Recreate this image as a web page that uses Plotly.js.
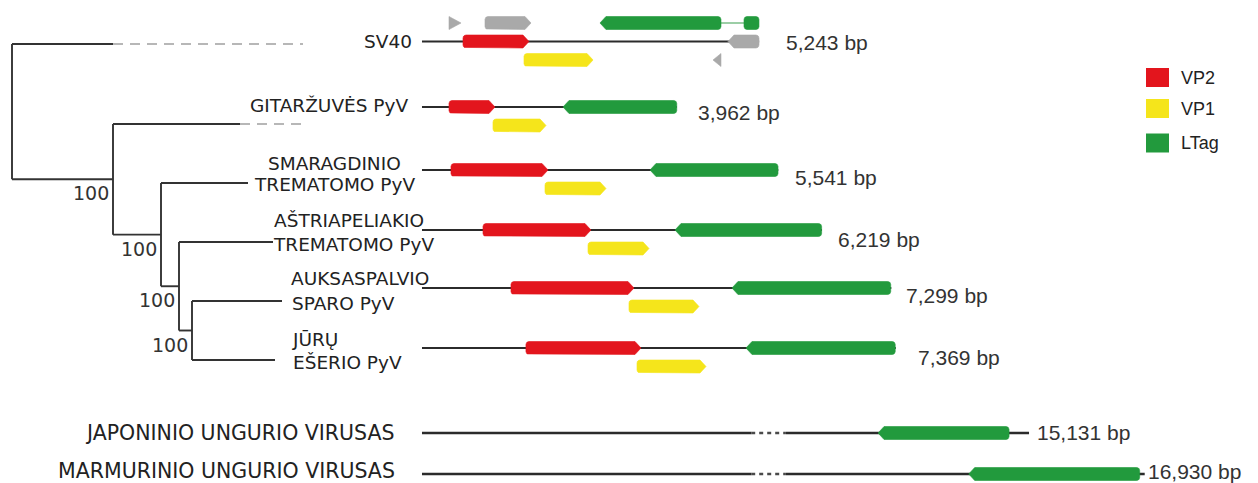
<!DOCTYPE html>
<html><head><meta charset="utf-8">
<script src="https://cdn.plot.ly/plotly-3.0.1.min.js"></script>
<style>html,body{margin:0;padding:0;background:#fff}#chart{width:1258px;height:483px}</style>
</head><body><div id="chart"></div>
<script>
// ================= DATA =================
const genomeNames = ['SV40','GITARŽUVĖS PyV','SMARAGDINIO TREMATOMO PyV','AŠTRIAPELIAKIO TREMATOMO PyV',
  'AUKSASPALVIO SPARO PyV','JŪRŲ EŠERIO PyV','JAPONINIO UNGURIO VIRUSAS','MARMURINIO UNGURIO VIRUSAS'];
const genomeLengths = [5243, 3962, 5541, 6219, 7299, 7369, 15131, 16930];
const genomeBroken  = [false, false, false, false, false, false, true, true];

const geneTypes = ['VP2', 'VP1', 'LTag'];

// genes (bp): genome index, type, start, end, strand (+ right, - left, . none), lane (-1 above, 0 on, 1 below)
const geneGenome = [0,0,0,0,0,0,0,0, 1,1,1, 2,2,2, 3,3,3, 4,4,4, 5,5,5, 6, 7];
const geneType   = ['other','other','VP2','VP1','LTag','LTag','other','other',
                    'VP2','VP1','LTag', 'VP2','VP1','LTag', 'VP2','VP1','LTag',
                    'VP2','VP1','LTag', 'VP2','VP1','LTag', 'LTag', 'LTag'];
const geneStart  = [420, 980, 638, 1586, 2768, 5008, 4759, 4526,
                    420, 1104, 2193,  451, 1913, 3546,  949, 2582, 3935,
                    1384, 3219, 4821,  1617, 3344, 5039,  12783, 14193];
const geneEnd    = [607, 1695, 1664, 2660, 4650, 5241, 5241, 4650,
                    1135, 1929, 3962,  1960, 2862, 5537,  2628, 3531, 6215,
                    3297, 4308, 7290,  3406, 4417, 7360,  14820, 16852];
const geneStrand = ['+','+','+','+','-','.','-','-',
                    '+','+','-', '+','+','-', '+','+','-', '+','+','-', '+','+','-', '-', '-'];
const geneLane   = [-1,-1,0,1,-1,-1,0,1, 0,1,0, 0,1,0, 0,1,0, 0,1,0, 0,1,0, 0, 0];

// SV40 LTag intron link
const intronGenome = [0], intronStart = [4650], intronEnd = [5008], intronLane = [-1];

// phylogeny (rectangular cladogram); leaves are genomes 0..5
const nodeChildren = [['L0','N1'], ['L1','N2'], ['L2','N3'], ['L3','N4'], ['L4','L5']];
const nodeSupport  = [null, 100, 100, 100, 100];
const nodeDepth    = [12, 113, 161, 179, 192];
const leafDepth    = [113, 240, 248, 273, 282, 275];
const leafDashEnd  = [303, 308, null, null, null, null];

// ================= STYLE / LAYOUT =================
const COLORS = {VP2:'#e3151d', VP1:'#f5e51b', LTag:'#229a3d', other:'#a9a9a9'};
const X_RANGE = [-6563, 13002];
const PLOT_W = 1258;
const BP_PER_PX = (X_RANGE[1] - X_RANGE[0]) / PLOT_W;
const rowY = [41.5, 107, 170, 230, 288, 348, 433, 474];
const leafY = [44, 124, 183, 242, 301, 360];
const LANE_OFF = 18.5, GENE_H = 13, TIP_PX = 6, R_PX = 3, TRI_MAX_PX = 14;
const BREAK_FROM = 5120, BREAK_TO = 11350, BREAK_SHOWN = 540;

const bpLabelX = [785, 697, 794, 837, 905, 917, 1036, 1147];
const bpLabelY = [42, 112.5, 177.5, 239, 295, 357, 432, 471];

const nameLines = [
  {t:'SV40', x:413, y:41, a:'right', s:18.5},
  {t:'GITARŽUVĖS PyV', x:409, y:105, a:'right', s:18.5},
  {t:'SMARAGDINIO', x:334, y:163, a:'center', s:18.5},
  {t:'TREMATOMO PyV', x:334, y:184, a:'center', s:18.5},
  {t:'AŠTRIAPELIAKIO', x:273, y:220, a:'left', s:18.5},
  {t:'TREMATOMO PyV', x:272, y:244, a:'left', s:18.5},
  {t:'AUKSASPALVIO', x:290, y:278, a:'left', s:18.5},
  {t:'SPARO PyV', x:291, y:303, a:'left', s:18.5},
  {t:'JŪRŲ', x:291, y:339, a:'left', s:18.5},
  {t:'EŠERIO PyV', x:292, y:362, a:'left', s:18.5},
  {t:'JAPONINIO UNGURIO VIRUSAS', x:396, y:433, a:'right', s:20.5},
  {t:'MARMURINIO UNGURIO VIRUSAS', x:396, y:471, a:'right', s:20.5}
];
const legendY = [77.5, 108.5, 143];

// ================= BUILD =================
function disp(bp, broken) {
  if (!broken || bp <= BREAK_FROM) return bp;
  if (bp < BREAK_TO) return BREAK_FROM + (bp - BREAK_FROM) / (BREAK_TO - BREAK_FROM) * BREAK_SHOWN;
  return bp - (BREAK_TO - BREAK_FROM) + BREAK_SHOWN;
}

function genePoly(s, e, yc, h, strand) {
  const tip = TIP_PX * BP_PER_PX, r = R_PX * BP_PER_PX, ry = R_PX;
  const top = yc - h / 2, bot = yc + h / 2;
  const xs = [], ys = [];
  const arc = (cx, cy, a0, a1) => { for (let k = 0; k <= 5; k++) { const a = a0 + (a1 - a0) * k / 5; xs.push(cx + r * Math.cos(a)); ys.push(cy + ry * Math.sin(a)); } };
  const tri = (e - s) <= TRI_MAX_PX * BP_PER_PX;
  if (strand === '+') {
    if (tri) return {x:[s, e, s, s], y:[top, yc, bot, top]};
    xs.push(e - tip); ys.push(top); xs.push(e); ys.push(yc); xs.push(e - tip); ys.push(bot);
    arc(s + r, bot - ry, Math.PI / 2, Math.PI);
    arc(s + r, top + ry, Math.PI, 1.5 * Math.PI);
    xs.push(e - tip); ys.push(top);
  } else if (strand === '-') {
    if (tri) return {x:[e, s, e, e], y:[top, yc, bot, top]};
    xs.push(s); ys.push(yc); xs.push(s + tip); ys.push(top);
    arc(e - r, top + ry, -Math.PI / 2, 0);
    arc(e - r, bot - ry, 0, Math.PI / 2);
    xs.push(s + tip); ys.push(bot); xs.push(s); ys.push(yc);
  } else {
    arc(s + r, top + ry, Math.PI, 1.5 * Math.PI);
    arc(e - r, top + ry, -Math.PI / 2, 0);
    arc(e - r, bot - ry, 0, Math.PI / 2);
    arc(s + r, bot - ry, Math.PI / 2, Math.PI);
    xs.push(xs[0]); ys.push(ys[0]);
  }
  return {x:xs, y:ys};
}

const traces = [];

// genome backbones
genomeLengths.forEach((L, g) => {
  const y = rowY[g], br = genomeBroken[g];
  const w = br ? 2.6 : 1.8;
  if (!br) {
    traces.push({x:[0, L], y:[y, y], mode:'lines', line:{color:'#2b2b2b', width:w}, hoverinfo:'skip'});
  } else {
    traces.push({x:[0, disp(BREAK_FROM, true), null, disp(BREAK_TO, true), disp(L, true)],
      y:[y, y, null, y, y], mode:'lines', line:{color:'#2b2b2b', width:w}, hoverinfo:'skip'});
    traces.push({x:[disp(BREAK_FROM, true), disp(BREAK_TO, true)], y:[y, y], mode:'lines',
      line:{color:'#4a4a4a', width:w, dash:'4px,4px'}, hoverinfo:'skip'});
  }
});

// intron links
intronGenome.forEach((g, i) => {
  const y = rowY[g] + intronLane[i] * LANE_OFF;
  traces.push({x:[intronStart[i], intronEnd[i]], y:[y, y], mode:'lines', line:{color:'#5aae6c', width:1.2}, hoverinfo:'skip'});
});

// genes
geneGenome.forEach((g, i) => {
  const br = genomeBroken[g];
  const p = genePoly(disp(geneStart[i], br), disp(geneEnd[i], br), rowY[g] + geneLane[i] * LANE_OFF, GENE_H, geneStrand[i]);
  const c = COLORS[geneType[i]];
  traces.push({x:p.x, y:p.y, mode:'lines', fill:'toself', fillcolor:c, line:{color:c, width:0.6}, hoverinfo:'skip'});
});

// tree
const nodeY = {};
leafY.forEach((y, i) => nodeY['L' + i] = y);
for (let k = nodeChildren.length - 1; k >= 0; k--) {
  const ys = nodeChildren[k].map(c => nodeY[c]);
  nodeY['N' + k] = (ys[0] + ys[1]) / 2;
}
const depthOf = id => id[0] === 'L' ? leafDepth[+id.slice(1)] : nodeDepth[+id.slice(1)];
const tx = [], ty = [], dx = [], dy = [];
nodeChildren.forEach((ch, k) => {
  const x0 = nodeDepth[k];
  const ys = ch.map(c => nodeY[c]);
  tx.push(x0, x0, null); ty.push(ys[0], ys[1], null);
  ch.forEach(c => { tx.push(x0, depthOf(c), null); ty.push(nodeY[c], nodeY[c], null); });
});
leafDashEnd.forEach((d, i) => { if (d != null) { dx.push(leafDepth[i], d, null); dy.push(leafY[i], leafY[i], null); } });
traces.push({x:tx, y:ty, xaxis:'x2', mode:'lines', line:{color:'#333333', width:1.9}, hoverinfo:'skip'});
traces.push({x:dx, y:dy, xaxis:'x2', mode:'lines', line:{color:'#a0a0a0', width:1.4, dash:'10px,7px'}, hoverinfo:'skip'});

// annotations
const annotations = [];
nodeSupport.forEach((s, k) => {
  if (s == null) return;
  annotations.push({xref:'x2', yref:'y', x:nodeDepth[k] - 2, y:nodeY['N' + k] + 14, text:String(s),
    showarrow:false, xanchor:'right', yanchor:'middle', font:{family:'DejaVu Sans', size:19, color:'#333'}});
});
nameLines.forEach(n => annotations.push({xref:'x2', yref:'y', x:n.x, y:n.y, text:n.t, showarrow:false,
  xanchor:n.a, yanchor:'middle', borderpad:0, font:{family:'DejaVu Sans', size:n.s, color:'#222'}}));
genomeLengths.forEach((L, g) => annotations.push({xref:'x2', yref:'y', x:bpLabelX[g], y:bpLabelY[g],
  text:L.toLocaleString('en-US') + ' bp', showarrow:false, xanchor:'left', yanchor:'middle', borderpad:0,
  font:{family:'Liberation Sans, Arial', size:21, color:'#333'}}));

// legend
const shapes = [];
geneTypes.forEach((t, i) => {
  shapes.push({type:'rect', xref:'x2', yref:'y', x0:1146, x1:1169, y0:legendY[i] - 9.5, y1:legendY[i] + 9.5,
    fillcolor:COLORS[t], line:{width:0}});
  annotations.push({xref:'x2', yref:'y', x:1179, y:legendY[i], text:t, showarrow:false, xanchor:'left', yanchor:'middle',
    font:{family:'Liberation Sans, Arial', size:18, color:'#222'}});
});

const layout = {
  width:1258, height:483, margin:{l:0, r:0, t:0, b:0}, paper_bgcolor:'#fff', plot_bgcolor:'#fff',
  showlegend:false,
  xaxis:{range:X_RANGE, visible:false, fixedrange:true},
  xaxis2:{range:[0, PLOT_W], overlaying:'x', visible:false, fixedrange:true},
  yaxis:{range:[483, 0], visible:false, fixedrange:true},
  annotations, shapes
};
Plotly.newPlot('chart', traces, layout, {displayModeBar:false, staticPlot:true});
</script>
</body></html>
